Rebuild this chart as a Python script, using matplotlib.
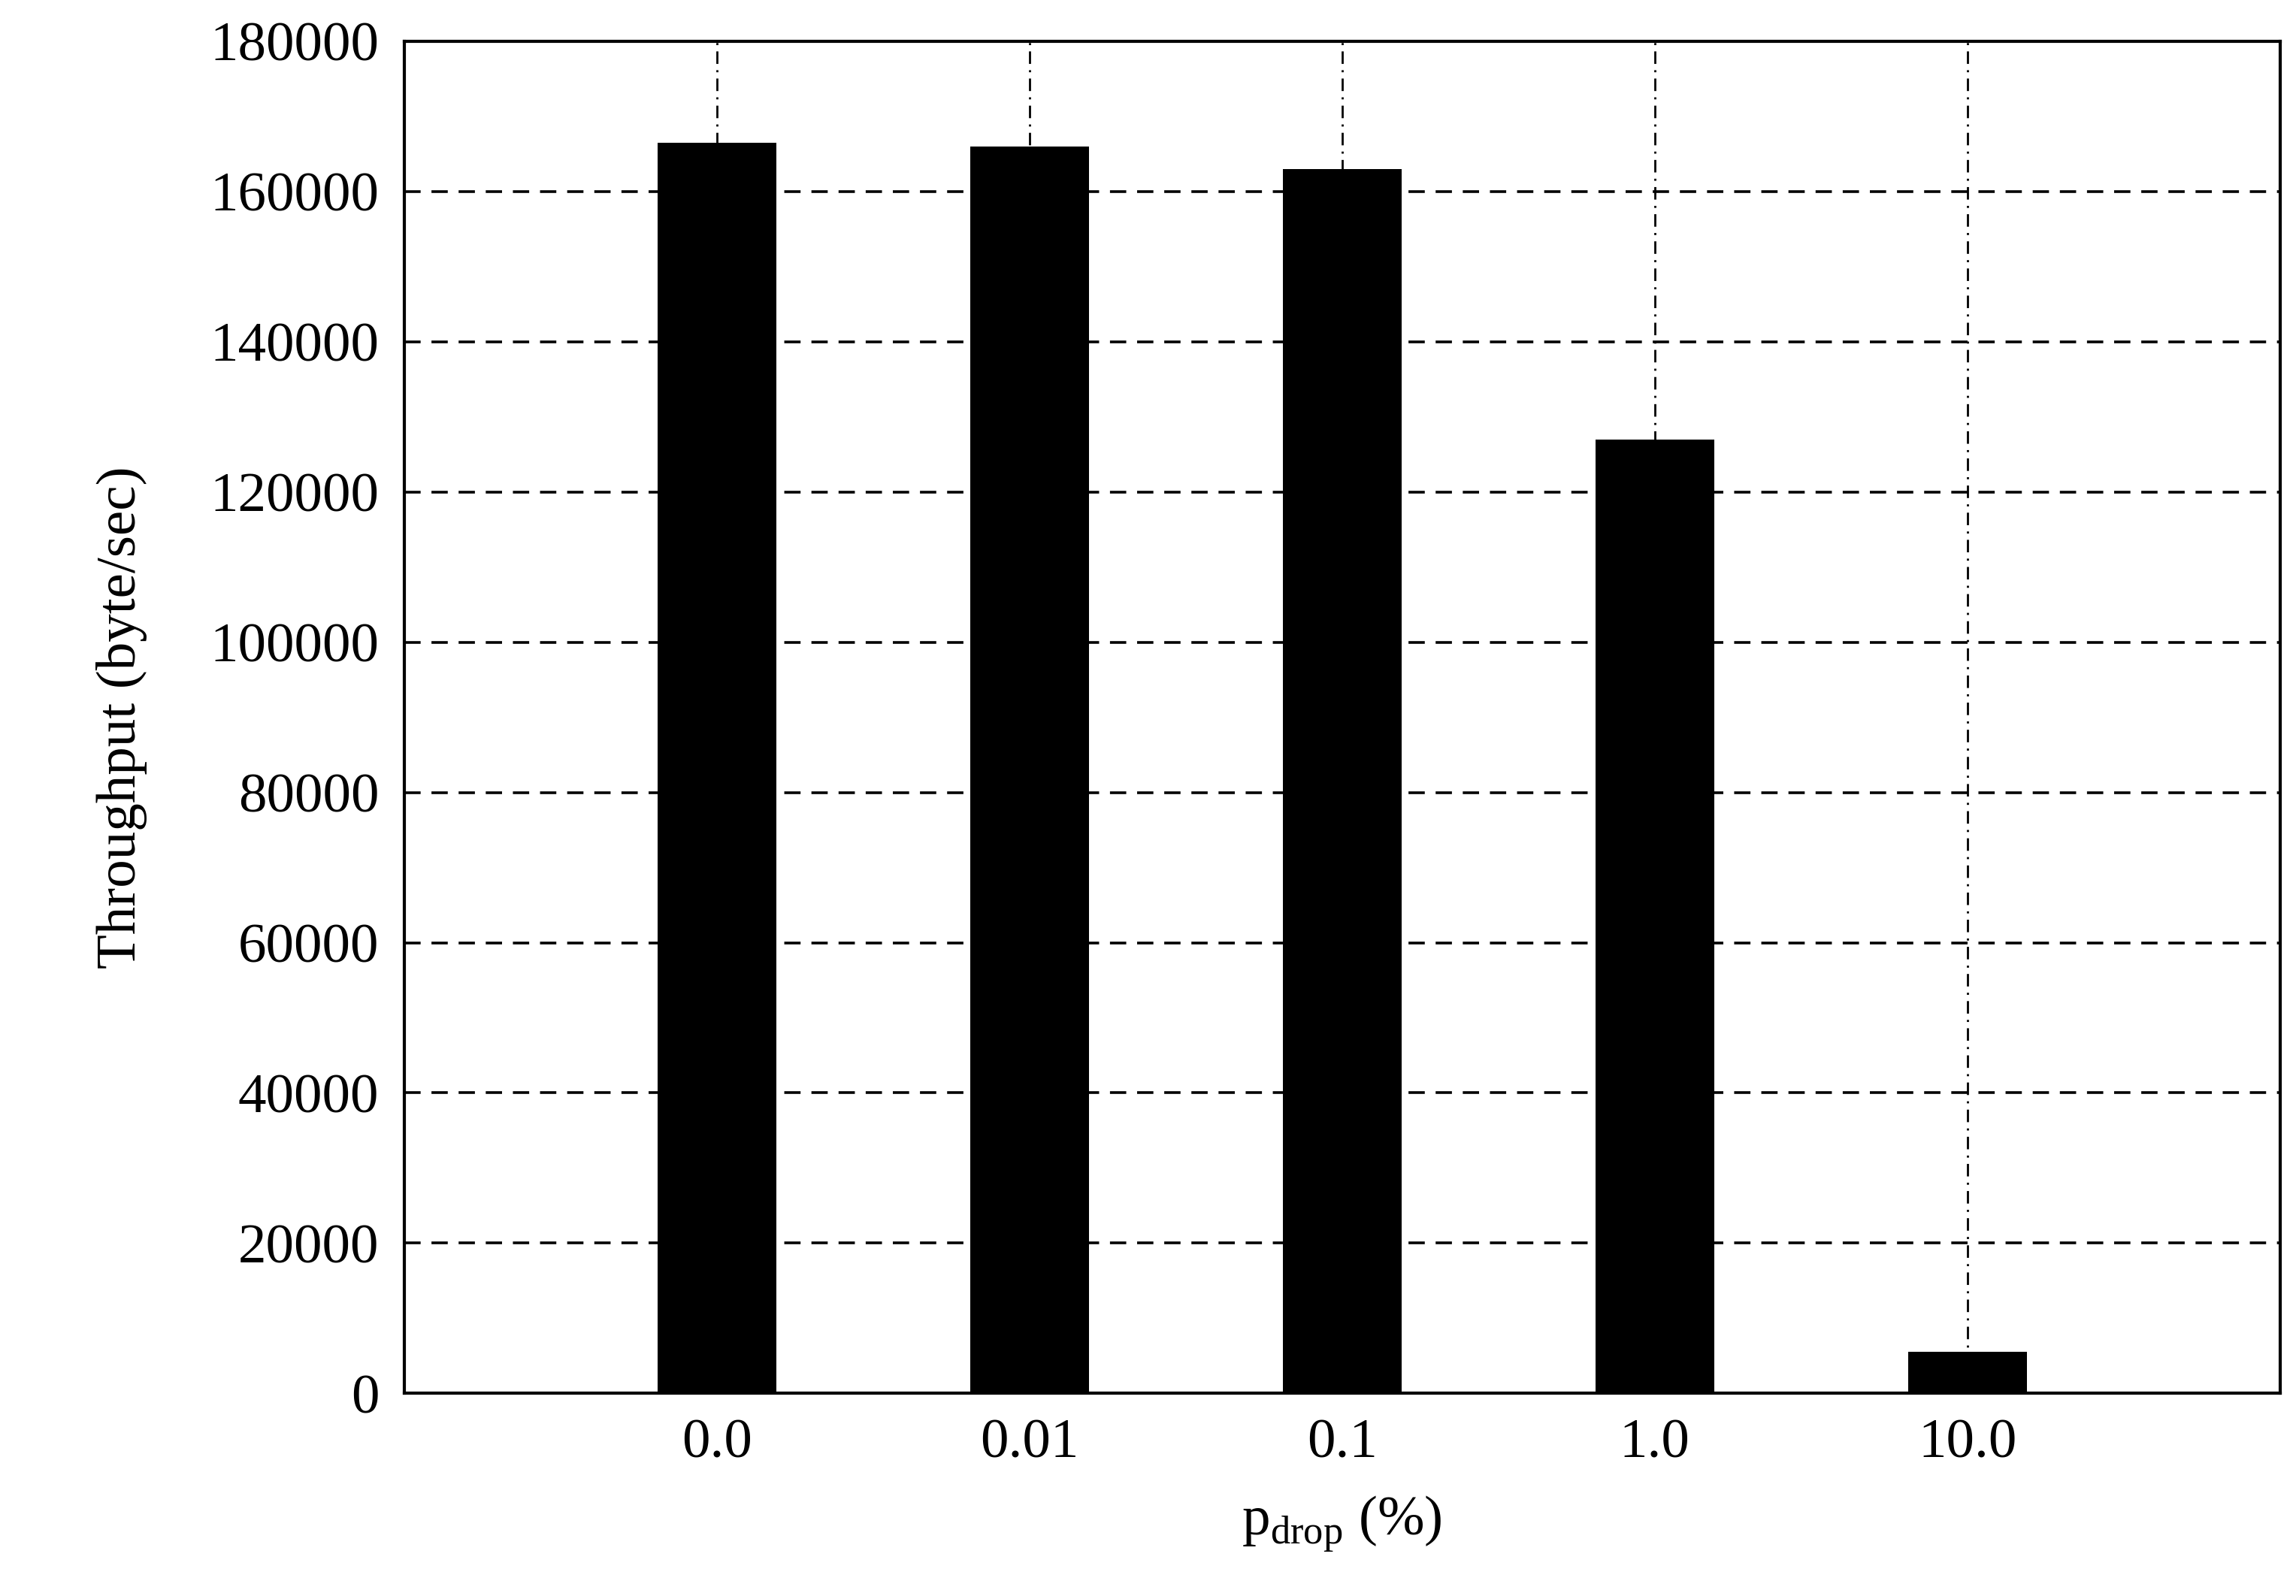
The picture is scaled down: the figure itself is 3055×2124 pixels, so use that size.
import numpy as np
import matplotlib.pyplot as plt

plt.rcParams['font.family'] = ['Liberation Serif', 'DejaVu Serif']

categories = ['0.0', '0.01', '0.1', '1.0', '10.0']
throughput = [166500, 166000, 163000, 127000, 5500]

fig = plt.figure(figsize=(15.275, 10.62), dpi=200)
ax = fig.add_axes([0.176, 0.127, 0.817, 0.847])

x = np.arange(len(categories))
ax.bar(x, throughput, width=0.38, color='black', zorder=3)

ax.set_xlim(-1, 5)
ax.set_ylim(0, 180000)
ax.set_yticks(np.arange(0, 180001, 20000))
ax.set_xticks(x)
ax.set_xticklabels(categories)
ax.tick_params(labelsize=27, length=0, pad=12)

ax.yaxis.grid(True, color='black', linestyle=(0, (6, 4)), linewidth=1.3, zorder=1)
ax.xaxis.grid(True, color='black', linestyle=(0, (6, 3, 1, 3)), linewidth=1.0, zorder=1)
for s in ax.spines.values():
    s.set_linewidth(1.5)

ax.set_ylabel('Throughput (byte/sec)', fontsize=27, labelpad=30)
ax.set_xlabel(r'p$_{\mathregular{drop}}$ (%)', fontsize=27, labelpad=12)

fig.savefig('out.png', dpi=200)
